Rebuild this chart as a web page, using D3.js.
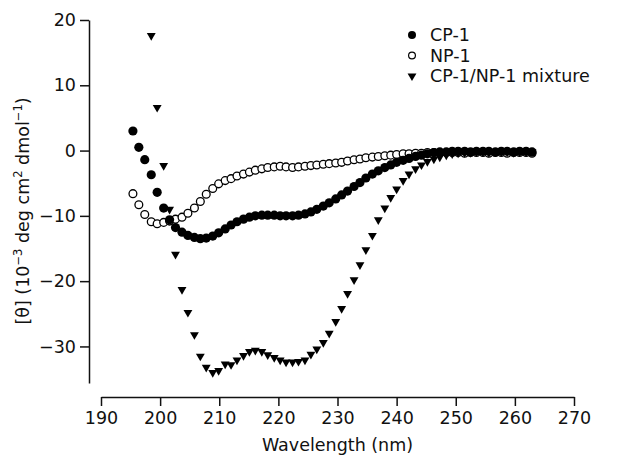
<!DOCTYPE html>
<html><head><meta charset="utf-8">
<script src="https://cdn.jsdelivr.net/npm/d3@7"></script>
<style>body{margin:0;background:#fff}svg{display:block}text{font-family:"DejaVu Sans",sans-serif;fill:#111}</style>
</head><body><svg id="c" width="626" height="459"></svg>
<script>
// plotted wavelength positions (as read against the axis)
const wavelength = [195.4,196.4,197.4,198.5,199.5,200.6,201.6,202.6,203.7,204.7,
205.8,206.8,207.8,208.9,209.9,211.0,212.0,213.0,214.1,215.1,
216.1,217.2,218.2,219.3,220.3,221.3,222.4,223.4,224.5,225.5,
226.5,227.6,228.6,229.7,230.7,231.7,232.8,233.8,234.8,235.9,
236.9,238.0,239.0,240.0,241.1,242.1,243.2,244.2,245.2,246.3,
247.3,248.4,249.4,250.4,251.5,252.5,253.5,254.6,255.6,256.7,
257.7,258.7,259.8,260.8,261.9,262.9];
const cp1 = [3.0,0.5,-1.4,-3.7,-6.4,-8.8,-10.6,-11.8,-12.5,-13.0,
-13.3,-13.5,-13.4,-13.1,-12.6,-12.0,-11.4,-10.9,-10.5,-10.2,
-10.0,-9.9,-9.9,-9.9,-10.0,-10.0,-10.0,-9.9,-9.7,-9.4,
-9.0,-8.5,-8.0,-7.4,-6.8,-6.2,-5.5,-4.9,-4.2,-3.6,
-3.1,-2.6,-2.2,-1.8,-1.5,-1.2,-0.9,-0.7,-0.5,-0.3,
-0.2,-0.2,-0.1,-0.1,-0.1,-0.2,-0.1,-0.1,-0.1,-0.2,
-0.1,-0.1,-0.2,-0.1,-0.1,-0.2];
const np1 = [-6.6,-8.3,-9.8,-10.9,-11.2,-11.0,-10.8,-10.5,-10.2,-9.6,
-8.8,-7.8,-6.7,-5.8,-5.1,-4.6,-4.3,-3.9,-3.6,-3.3,
-3.0,-2.8,-2.6,-2.5,-2.4,-2.5,-2.6,-2.5,-2.4,-2.3,
-2.2,-2.1,-2.0,-1.9,-1.8,-1.6,-1.4,-1.3,-1.1,-1.0,
-0.9,-0.8,-0.7,-0.6,-0.5,-0.5,-0.4,-0.4,-0.3,-0.3,
-0.3,-0.3,-0.3,-0.3,-0.4,-0.3,-0.3,-0.3,-0.4,-0.3,
-0.3,-0.4,-0.3,-0.3,-0.3,-0.4];
const mixture = [null,null,null,17.6,6.6,-2.3,-9.0,-15.9,-21.3,-24.8,
-28.2,-31.5,-33.2,-34.0,-33.7,-32.7,-32.8,-32.1,-31.4,-30.8,
-30.6,-30.8,-31.3,-31.7,-32.1,-32.4,-32.4,-32.3,-32.1,-31.2,
-30.4,-29.4,-28.0,-26.2,-24.2,-21.9,-19.8,-17.5,-15.2,-13.0,
-10.6,-8.8,-7.2,-5.9,-4.6,-3.6,-2.8,-2.2,-1.7,-1.3,
-1.0,-0.7,-0.5,-0.4,-0.3,-0.3,-0.2,-0.2,-0.3,-0.2,
-0.2,-0.2,-0.3,-0.2,-0.2,-0.2];
const seriesNames = ["CP-1","NP-1","CP-1/NP-1 mixture"];
const xTicks = [190,200,210,220,230,240,250,260,270];
const yTicks = [-30,-20,-10,0,10,20];

const FS = 17.5;
const svg = d3.select("#c");
const x = d3.scaleLinear().domain([190,270]).range([101,574]);
const y = d3.scaleLinear().domain([-35.6,20]).range([383,20]);

const xAxis = svg.append("g").attr("transform","translate(0,397)")
  .call(d3.axisBottom(x).tickValues(xTicks).tickSize(9).tickSizeOuter(0).tickPadding(6));
const yAxis = svg.append("g").attr("transform","translate(89,0)")
  .call(d3.axisLeft(y).tickValues(yTicks).tickSize(9).tickSizeOuter(0).tickPadding(4));
[xAxis,yAxis].forEach(g=>{
  g.selectAll("path,line").attr("stroke","#111").attr("stroke-width",1.5);
  g.selectAll("text").attr("font-family","DejaVu Sans").attr("font-size",FS).attr("fill","#111");
});

svg.append("text").attr("x",(x(190)+x(270))/2).attr("y",451).attr("text-anchor","middle")
  .attr("font-size",FS).text("Wavelength (nm)");

const yt = svg.append("text").attr("transform","translate(29,211) rotate(-90)")
  .attr("text-anchor","middle").attr("font-size",FS);
yt.append("tspan").text("[θ] (10");
yt.append("tspan").attr("font-size",11.5).attr("dy",-7).text("−3");
yt.append("tspan").attr("dy",7).text(" deg cm");
yt.append("tspan").attr("font-size",11.5).attr("dy",-7).text("2");
yt.append("tspan").attr("dy",7).text(" dmol");
yt.append("tspan").attr("font-size",11.5).attr("dy",-7).text("−1");
yt.append("tspan").attr("dy",7).text(")");

const tri = d3.symbol().type(d3.symbolTriangle).size(34);
const idx = d3.range(wavelength.length);

// NP-1 open circles
svg.append("g").selectAll("circle").data(idx.filter(i=>np1[i]!=null)).join("circle")
  .attr("cx",i=>x(wavelength[i])).attr("cy",i=>y(np1[i])).attr("r",3.9)
  .attr("fill","#fff").attr("stroke","#000").attr("stroke-width",1.3);
// CP-1 filled circles
svg.append("g").selectAll("circle").data(idx.filter(i=>cp1[i]!=null)).join("circle")
  .attr("cx",i=>x(wavelength[i])).attr("cy",i=>y(cp1[i])).attr("r",4.6).attr("fill","#000");
// mixture triangles
svg.append("g").selectAll("path").data(idx.filter(i=>mixture[i]!=null)).join("path")
  .attr("d",tri).attr("fill","#000")
  .attr("transform",i=>`translate(${x(wavelength[i])},${y(mixture[i])}) rotate(180)`);

// legend
const lg = svg.append("g");
const rows = [35,55.5,76];
lg.append("circle").attr("cx",412).attr("cy",rows[0]).attr("r",4).attr("fill","#000");
lg.append("circle").attr("cx",412).attr("cy",rows[1]).attr("r",3.4).attr("fill","#fff").attr("stroke","#000").attr("stroke-width",1.2);
lg.append("path").attr("d",tri).attr("fill","#000").attr("transform",`translate(412,${rows[2]}) rotate(180)`);
seriesNames.forEach((n,k)=>lg.append("text").attr("x",430).attr("y",rows[k]).attr("dy","0.36em")
  .attr("font-size",FS).text(n));
</script></body></html>
